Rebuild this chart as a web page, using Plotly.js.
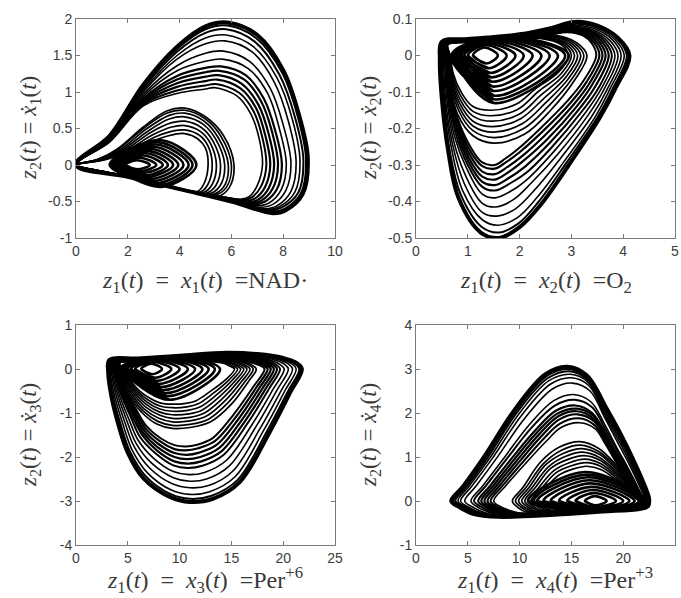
<!DOCTYPE html>
<html><head><meta charset="utf-8">
<script src="https://cdn.plot.ly/plotly-3.0.1.min.js"></script>
<style>html,body{margin:0;padding:0;background:#fff;}#plot{width:681px;height:598px;}</style>
</head><body><div id="plot"></div>
<script>
// ---------- data (each string = one loop of the trajectory, "x,y" control points) ----------
// Panel 1: z1 = x1 (NAD·), z2 = dx1/dt
const nadBig = [
"0,0 1.3,0.4 2.6,1.1 3.9,1.62 5,1.9 5.9,1.95 7,1.78 8,1.3 8.6,0.7 8.95,0.1 8.75,-0.4 8.1,-0.62 7.6,-0.66 6,-0.5 4,-0.33 2,-0.16 0,0",
"0,0 1.3,0.39 2.6,1.08 3.9,1.59 5,1.86 5.85,1.91 6.95,1.74 7.95,1.27 8.55,0.68 8.88,0.08 8.68,-0.39 8.05,-0.6 7.55,-0.64 6,-0.5 4,-0.33 2,-0.16 0,0",
"0,0 1.3,0.38 2.6,1.05 3.9,1.55 5,1.81 5.8,1.86 6.9,1.69 7.85,1.24 8.45,0.66 8.78,0.06 8.58,-0.38 7.95,-0.58 7.45,-0.62 6,-0.49 4,-0.33 2,-0.16 0,0",
"0,0 1.3,0.37 2.6,1.02 3.9,1.5 5,1.74 5.8,1.78 6.85,1.62 7.75,1.2 8.35,0.63 8.65,0.04 8.45,-0.37 7.85,-0.57 7.35,-0.61 6,-0.49 4,-0.33 2,-0.16 0,0",
"0,0 1.3,0.37 2.6,1.0 3.9,1.45 5,1.66 5.75,1.7 6.8,1.55 7.65,1.14 8.2,0.6 8.5,0.03 8.3,-0.36 7.75,-0.56 7.25,-0.6 6,-0.49 4,-0.33 2,-0.16 0,0",
"0,0 1.3,0.36 2.6,0.97 3.9,1.36 5,1.53 5.7,1.56 6.7,1.42 7.5,1.05 8,0.55 8.3,0.02 8.1,-0.35 7.6,-0.54 7.1,-0.58 6,-0.48 4,-0.33 2,-0.16 0,0",
"0,0 1.3,0.35 2.6,0.94 3.9,1.29 5,1.42 5.65,1.45 6.65,1.32 7.4,0.98 7.85,0.5 8.12,0.01 7.92,-0.34 7.45,-0.52 6.95,-0.56 6,-0.48 4,-0.33 2,-0.16 0,0",
"0,0 1.3,0.34 2.6,0.91 3.9,1.22 5,1.33 5.6,1.35 6.55,1.23 7.25,0.91 7.7,0.46 7.95,0 7.76,-0.33 7.3,-0.5 6.85,-0.54 6,-0.47 4,-0.33 2,-0.16 0,0",
"0,0 1.3,0.34 2.6,0.89 3.9,1.17 5,1.27 5.55,1.29 6.5,1.17 7.15,0.87 7.58,0.44 7.8,0 7.6,-0.32 7.15,-0.49 6.75,-0.52 6,-0.47 4,-0.33 2,-0.16 0,0",
"0,0 1.3,0.33 2.6,0.87 3.9,1.12 5,1.21 5.5,1.23 6.4,1.11 7.05,0.82 7.45,0.41 7.65,0 7.45,-0.31 7.05,-0.47 6.65,-0.51 6,-0.47 4,-0.33 2,-0.16 0,0",
"0,0 1.3,0.33 2.6,0.85 3.9,1.07 5,1.15 5.45,1.17 6.35,1.05 6.95,0.78 7.32,0.39 7.5,0 7.3,-0.3 6.9,-0.46 6.55,-0.49 6,-0.46 4,-0.33 2,-0.16 0,0",
"0,0 1.3,0.32 2.6,0.83 3.9,1.02 5,1.09 5.4,1.11 6.3,0.99 6.85,0.74 7.2,0.37 7.35,0 7.15,-0.29 6.8,-0.44 6.45,-0.48 6,-0.46 4,-0.33 2,-0.16 0,0",
"0,0 1.3,0.32 2.6,0.81 3.9,0.98 5,1.04 5.35,1.06 6.2,0.95 6.75,0.7 7.08,0.35 7.2,0 7,-0.28 6.7,-0.43 6.35,-0.47 6,-0.46 4,-0.33 2,-0.16 0,0"
];
const nadMid = [
"0,0 0.8,0.07 1.6,0.22 2.6,0.52 3.5,0.74 4.2,0.78 5,0.66 5.7,0.4 6.1,0 5.9,-0.32 5.4,-0.44 4.8,-0.4 3,-0.25 1.5,-0.12 0,0",
"0,0 0.8,0.07 1.6,0.21 2.6,0.5 3.5,0.71 4.2,0.75 5,0.63 5.6,0.39 6,0 5.8,-0.31 5.3,-0.42 4.7,-0.39 3,-0.25 1.5,-0.12 0,0",
"0,0 0.8,0.07 1.7,0.21 2.7,0.49 3.6,0.68 4.2,0.71 4.95,0.6 5.5,0.37 5.88,0 5.7,-0.3 5.2,-0.41 4.6,-0.38 3,-0.25 1.5,-0.12 0,0",
"0,0 0.9,0.07 1.8,0.21 2.8,0.47 3.6,0.63 4.2,0.66 4.9,0.56 5.4,0.35 5.74,0 5.55,-0.29 5.1,-0.4 4.5,-0.37 3,-0.25 1.5,-0.12 0,0",
"0,0 0.9,0.07 1.9,0.21 2.9,0.45 3.7,0.58 4.2,0.6 4.85,0.51 5.3,0.32 5.58,0 5.4,-0.28 5,-0.39 4.4,-0.36 3,-0.25 1.5,-0.12 0,0",
"0,0 1,0.07 2,0.21 3,0.42 3.7,0.52 4.2,0.54 4.8,0.46 5.2,0.29 5.42,0 5.25,-0.27 4.9,-0.38 4.3,-0.35 3,-0.25 1.5,-0.12 0,0",
"0,0 1,0.07 2.1,0.21 3.1,0.39 3.8,0.47 4.2,0.48 4.75,0.41 5.1,0.26 5.26,0 5.1,-0.26 4.8,-0.37 4.2,-0.34 3,-0.25 1.5,-0.12 0,0",
"0,0 1.1,0.07 2.2,0.21 3.2,0.36 3.8,0.42 4.2,0.43 4.7,0.36 5,0.23 5.1,0 4.95,-0.25 4.7,-0.36 4.1,-0.34 3,-0.25 1.5,-0.12 0,0"
];
const nadCore = [
"2.35,-0.06 1.9,0 2.35,0.065 2.85,0 2.35,-0.06 1.9,0",
"2.45,-0.085 1.8,0 2.45,0.1 3.1,0 2.45,-0.085 1.8,0",
"2.6,-0.11 1.72,0 2.6,0.13 3.35,0 2.6,-0.11 1.72,0",
"2.7,-0.14 1.65,0 2.7,0.16 3.55,0 2.7,-0.14 1.65,0",
"2.8,-0.16 1.58,0 2.8,0.19 3.75,0 2.8,-0.16 1.58,0",
"2.9,-0.19 1.5,0 2.9,0.22 3.95,0 2.9,-0.19 1.5,0",
"3,-0.22 1.45,0 3,0.25 4.15,0 3,-0.22 1.45,0",
"3.1,-0.25 1.4,0 3.1,0.28 4.35,0 3.1,-0.25 1.4,0",
"3.2,-0.28 1.35,0 3.2,0.31 4.5,0 3.2,-0.28 1.35,0",
"3.3,-0.3 1.3,0 3.3,0.34 4.65,0 3.3,-0.3 1.3,0"
];
// Panel 2: z1 = x2 (O2), z2 = dx2/dt
const o2Big = [
"0.5,0.038 1,0.045 2,0.058 2.6,0.075 3.05,0.092 3.5,0.082 3.9,0.048 4.12,0 3.85,-0.09 3.55,-0.17 2.95,-0.3 2.4,-0.41 2,-0.47 1.6,-0.5 1.25,-0.485 0.82,-0.39 0.62,-0.26 0.5,-0.12 0.46,-0.01 0.5,0.038",
"0.5,0.037 1,0.044 2,0.057 2.6,0.073 3.05,0.089 3.5,0.079 3.88,0.046 4.07,0 3.8,-0.09 3.5,-0.17 2.9,-0.295 2.37,-0.4 1.98,-0.46 1.6,-0.485 1.27,-0.47 0.86,-0.38 0.65,-0.26 0.53,-0.12 0.49,-0.01 0.5,0.037",
"0.51,0.036 1,0.043 2,0.056 2.6,0.071 3.05,0.086 3.48,0.076 3.84,0.044 4.02,0 3.75,-0.09 3.45,-0.17 2.86,-0.29 2.33,-0.39 1.95,-0.445 1.58,-0.465 1.28,-0.45 0.9,-0.37 0.68,-0.25 0.55,-0.12 0.51,-0.01 0.51,0.036",
"0.52,0.035 1,0.042 2,0.055 2.6,0.069 3.05,0.083 3.45,0.073 3.8,0.042 3.96,0 3.7,-0.09 3.4,-0.165 2.8,-0.28 2.28,-0.37 1.92,-0.42 1.56,-0.44 1.28,-0.43 0.93,-0.35 0.7,-0.24 0.57,-0.12 0.53,-0.01 0.52,0.035",
"0.53,0.035 1,0.042 2,0.054 2.6,0.067 3,0.08 3.42,0.07 3.75,0.04 3.9,0 3.64,-0.09 3.34,-0.16 2.74,-0.27 2.22,-0.35 1.88,-0.395 1.55,-0.415 1.28,-0.405 0.96,-0.33 0.72,-0.23 0.59,-0.11 0.55,-0.01 0.53,0.035",
"0.54,0.034 1,0.041 2,0.053 2.6,0.065 3,0.077 3.4,0.067 3.7,0.038 3.84,0 3.58,-0.09 3.28,-0.155 2.68,-0.26 2.18,-0.335 1.85,-0.37 1.53,-0.39 1.28,-0.38 0.98,-0.31 0.74,-0.22 0.61,-0.11 0.57,-0.01 0.54,0.034",
"0.55,0.034 1,0.041 2,0.052 2.6,0.063 3,0.074 3.38,0.065 3.65,0.037 3.78,0 3.52,-0.09 3.22,-0.15 2.63,-0.25 2.14,-0.32 1.82,-0.35 1.52,-0.37 1.28,-0.36 1,-0.3 0.76,-0.21 0.62,-0.1 0.58,-0.01 0.55,0.034",
"0.56,0.034 1,0.041 2,0.052 2.6,0.062 3,0.072 3.35,0.063 3.6,0.036 3.72,0 3.46,-0.085 3.16,-0.145 2.58,-0.24 2.1,-0.305 1.8,-0.335 1.52,-0.355 1.28,-0.346 1.01,-0.29 0.77,-0.2 0.63,-0.1 0.59,-0.01 0.56,0.034",
"0.57,0.033 1,0.04 2,0.051 2.6,0.061 3,0.07 3.32,0.061 3.55,0.035 3.66,0 3.4,-0.08 3.1,-0.14 2.53,-0.23 2.06,-0.29 1.78,-0.32 1.52,-0.34 1.28,-0.332 1.02,-0.28 0.78,-0.19 0.64,-0.1 0.6,-0.01 0.57,0.033",
"0.58,0.033 1,0.04 2,0.05 2.6,0.06 2.98,0.068 3.28,0.059 3.5,0.034 3.6,0 3.34,-0.078 3.04,-0.135 2.48,-0.22 2.03,-0.278 1.76,-0.306 1.52,-0.325 1.28,-0.318 1.03,-0.27 0.79,-0.185 0.65,-0.095 0.61,-0.01 0.58,0.033",
"0.59,0.033 1,0.039 2,0.05 2.6,0.059 2.95,0.066 3.25,0.057 3.45,0.033 3.54,0 3.28,-0.075 2.98,-0.13 2.43,-0.21 2,-0.265 1.74,-0.292 1.52,-0.31 1.28,-0.303 1.04,-0.26 0.8,-0.18 0.66,-0.09 0.62,-0.01 0.59,0.033",
"0.6,0.033 1,0.039 2,0.05 2.6,0.058 2.92,0.064 3.22,0.055 3.4,0.032 3.48,0 3.22,-0.072 2.92,-0.125 2.4,-0.2 1.98,-0.255 1.72,-0.283 1.52,-0.3 1.28,-0.293 1.05,-0.25 0.81,-0.175 0.67,-0.09 0.63,-0.01 0.6,0.033"
];
const o2Mid = [
"0.56,0.032 1,0.04 2,0.052 2.7,0.055 3.1,0.035 3.3,0 3.05,-0.07 2.6,-0.15 2.1,-0.215 1.5,-0.24 1.1,-0.22 0.8,-0.16 0.66,-0.08 0.6,0 0.56,0.032",
"0.57,0.032 1,0.04 2,0.051 2.65,0.053 3.05,0.034 3.24,0 3,-0.066 2.55,-0.14 2.08,-0.2 1.5,-0.225 1.1,-0.206 0.82,-0.15 0.67,-0.075 0.61,0 0.57,0.032",
"0.58,0.031 1,0.039 2,0.05 2.6,0.052 3,0.033 3.18,0 2.95,-0.062 2.5,-0.13 2.05,-0.187 1.5,-0.21 1.1,-0.193 0.83,-0.14 0.68,-0.07 0.62,0 0.58,0.031",
"0.59,0.031 1,0.038 2,0.049 2.55,0.05 2.95,0.032 3.12,0 2.9,-0.058 2.45,-0.12 2.02,-0.173 1.48,-0.195 1.1,-0.18 0.84,-0.13 0.69,-0.065 0.63,0 0.59,0.031",
"0.6,0.03 1,0.037 2,0.048 2.5,0.049 2.9,0.031 3.06,0 2.85,-0.054 2.4,-0.11 2,-0.16 1.47,-0.18 1.1,-0.166 0.85,-0.12 0.7,-0.06 0.64,0 0.6,0.03",
"0.61,0.03 1,0.037 2,0.047 2.45,0.048 2.85,0.03 3,0 2.8,-0.05 2.35,-0.1 1.97,-0.147 1.46,-0.165 1.1,-0.153 0.86,-0.11 0.71,-0.055 0.65,0 0.61,0.03",
"0.62,0.03 1,0.036 2,0.046 2.4,0.047 2.8,0.03 2.94,0 2.75,-0.046 2.3,-0.092 1.94,-0.133 1.45,-0.15 1.1,-0.14 0.87,-0.1 0.72,-0.05 0.66,0 0.62,0.03"
];
const o2Core = [
"1.35,-0.022 1.1,0 1.32,0.022 1.58,0 1.35,-0.022 1.1,0",
"1.4,-0.035 1,0 1.35,0.028 1.75,0 1.4,-0.035 1,0",
"1.43,-0.048 0.93,0 1.38,0.032 1.92,0 1.43,-0.048 0.93,0",
"1.45,-0.06 0.88,0 1.42,0.036 2.08,0 1.45,-0.06 0.88,0",
"1.47,-0.072 0.84,0 1.46,0.04 2.25,0 1.47,-0.072 0.84,0",
"1.48,-0.085 0.8,0 1.5,0.043 2.42,0 1.48,-0.085 0.8,0",
"1.49,-0.097 0.76,0 1.55,0.046 2.58,0 1.49,-0.097 0.76,0",
"1.5,-0.11 0.73,0 1.6,0.048 2.74,0 1.5,-0.11 0.73,0",
"1.5,-0.12 0.7,0 1.65,0.05 2.88,0 1.5,-0.12 0.7,0",
"1.5,-0.13 0.68,0 1.7,0.052 2.95,0 1.5,-0.13 0.68,0"
];
// Panel 3: z1 = x3 (Per+6), z2 = dx3/dt
const per6Big = [
"3.2,0.2 6,0.24 10,0.3 14.5,0.37 17.5,0.34 20,0.25 21.2,0.15 21.8,0 20.7,-0.52 18.7,-1.43 15.8,-2.57 13.2,-2.95 11,-3.02 9,-2.9 6.5,-2.48 5,-1.9 4.1,-1.27 3.4,-0.6 3.1,-0.05 3.2,0.2",
"3.25,0.2 6,0.24 10,0.3 14.5,0.36 17.4,0.33 19.8,0.24 21,0.14 21.55,0 20.45,-0.51 18.45,-1.41 15.6,-2.52 13.1,-2.88 11,-2.95 9.1,-2.84 6.7,-2.43 5.2,-1.87 4.3,-1.25 3.55,-0.6 3.2,-0.05 3.25,0.2",
"3.3,0.19 6,0.23 10,0.29 14.5,0.35 17.3,0.32 19.6,0.23 20.75,0.13 21.25,0 20.15,-0.5 18.15,-1.38 15.35,-2.45 12.9,-2.79 11,-2.85 9.2,-2.75 6.9,-2.36 5.4,-1.83 4.5,-1.23 3.7,-0.59 3.3,-0.05 3.3,0.19",
"3.35,0.19 6,0.23 10,0.29 14.4,0.34 17.1,0.31 19.4,0.22 20.45,0.12 20.9,0 19.8,-0.49 17.8,-1.34 15.1,-2.33 12.8,-2.65 11,-2.7 9.3,-2.61 7.1,-2.25 5.6,-1.76 4.7,-1.2 3.85,-0.58 3.4,-0.05 3.35,0.19",
"3.4,0.19 6,0.23 10,0.28 14.3,0.33 16.9,0.3 19.1,0.21 20.1,0.11 20.5,0 19.4,-0.48 17.4,-1.3 14.8,-2.2 12.6,-2.5 11,-2.55 9.4,-2.47 7.3,-2.14 5.8,-1.69 4.9,-1.17 4,-0.57 3.5,-0.05 3.4,0.19",
"3.45,0.18 6,0.22 10,0.28 14.2,0.32 16.7,0.29 18.8,0.2 19.7,0.1 20.1,0 19,-0.47 17,-1.26 14.5,-2.08 12.4,-2.35 10.9,-2.4 9.4,-2.33 7.5,-2.03 6,-1.62 5.1,-1.14 4.15,-0.56 3.6,-0.05 3.45,0.18",
"3.5,0.18 6,0.22 10,0.27 14,0.31 16.5,0.28 18.5,0.19 19.35,0.09 19.7,0 18.6,-0.46 16.6,-1.22 14.2,-1.96 12.2,-2.2 10.8,-2.25 9.4,-2.19 7.7,-1.92 6.2,-1.55 5.3,-1.1 4.3,-0.55 3.7,-0.05 3.5,0.18",
"3.55,0.18 6,0.22 10,0.27 14,0.3 16.3,0.27 18.2,0.18 19.05,0.09 19.4,0 18.3,-0.45 16.3,-1.19 14,-1.88 12.1,-2.1 10.8,-2.15 9.5,-2.1 7.8,-1.85 6.4,-1.5 5.45,-1.08 4.4,-0.54 3.8,-0.05 3.55,0.18",
"3.6,0.18 6,0.21 10,0.26 13.9,0.29 16.1,0.26 17.9,0.17 18.75,0.08 19.1,0 18,-0.44 16,-1.16 13.8,-1.8 12,-2 10.7,-2.05 9.5,-2 7.9,-1.78 6.5,-1.45 5.6,-1.05 4.5,-0.53 3.9,-0.05 3.6,0.18",
"3.65,0.17 6,0.21 10,0.26 13.8,0.28 15.9,0.25 17.6,0.16 18.45,0.08 18.8,0 17.7,-0.43 15.7,-1.13 13.6,-1.72 11.9,-1.9 10.7,-1.95 9.5,-1.91 8,-1.71 6.6,-1.4 5.7,-1.02 4.6,-0.52 4,-0.05 3.65,0.17",
"3.7,0.17 6,0.21 10,0.25 13.7,0.27 15.7,0.24 17.3,0.15 18.15,0.07 18.5,0 17.4,-0.42 15.4,-1.1 13.4,-1.64 11.8,-1.8 10.6,-1.85 9.5,-1.82 8.1,-1.64 6.7,-1.35 5.8,-0.99 4.7,-0.51 4.1,-0.05 3.7,0.17",
"3.75,0.17 6,0.2 10,0.25 13.6,0.26 15.5,0.23 17,0.14 17.85,0.07 18.2,0 17.1,-0.41 15.1,-1.07 13.2,-1.57 11.7,-1.72 10.6,-1.76 9.5,-1.73 8.2,-1.58 6.8,-1.3 5.9,-0.96 4.8,-0.5 4.2,-0.05 3.75,0.17"
];
const per6Mid = [
"3.9,0.16 6,0.19 10,0.23 13.5,0.24 15.6,0.2 16.9,0.1 17.4,0 16.6,-0.3 15,-0.8 13,-1.2 11,-1.33 9.3,-1.35 7.8,-1.25 6.4,-1 5.4,-0.7 4.6,-0.35 4.2,-0.05 3.9,0.16",
"3.95,0.16 6,0.19 10,0.23 13.4,0.23 15.4,0.19 16.6,0.1 17.1,0 16.3,-0.29 14.7,-0.76 12.8,-1.14 11,-1.26 9.3,-1.28 7.9,-1.19 6.5,-0.96 5.5,-0.67 4.7,-0.34 4.25,-0.05 3.95,0.16",
"4,0.15 6,0.18 10,0.22 13.3,0.22 15.2,0.18 16.3,0.09 16.8,0 16,-0.28 14.4,-0.72 12.6,-1.07 11,-1.18 9.3,-1.2 8,-1.12 6.6,-0.91 5.6,-0.64 4.8,-0.33 4.3,-0.05 4,0.15",
"4.05,0.15 6,0.18 10,0.22 13.2,0.21 15,0.17 16,0.09 16.5,0 15.7,-0.27 14.1,-0.68 12.4,-1 11,-1.1 9.3,-1.12 8.1,-1.05 6.7,-0.86 5.7,-0.61 4.9,-0.32 4.35,-0.05 4.05,0.15",
"4.1,0.15 6,0.17 10,0.21 13,0.2 14.8,0.16 15.7,0.08 16.2,0 15.4,-0.26 13.8,-0.64 12.2,-0.93 10.9,-1.02 9.3,-1.04 8.1,-0.98 6.8,-0.81 5.8,-0.58 5,-0.31 4.4,-0.05 4.1,0.15",
"4.15,0.14 6,0.17 10,0.21 12.9,0.19 14.6,0.15 15.4,0.08 15.9,0 15.1,-0.25 13.5,-0.6 12,-0.86 10.8,-0.94 9.3,-0.96 8.1,-0.91 6.9,-0.76 5.9,-0.55 5.1,-0.3 4.45,-0.05 4.15,0.14",
"4.2,0.14 6,0.16 10,0.2 12.8,0.18 14.4,0.14 15.1,0.07 15.6,0 14.8,-0.24 13.2,-0.56 11.8,-0.79 10.7,-0.86 9.3,-0.88 8.1,-0.84 7,-0.71 6,-0.52 5.2,-0.29 4.5,-0.05 4.2,0.14",
"4.25,0.14 6,0.16 10,0.2 12.7,0.17 14.2,0.13 14.8,0.07 15.3,0 14.5,-0.23 12.9,-0.52 11.6,-0.72 10.6,-0.78 9.3,-0.8 8.1,-0.77 7.1,-0.66 6.1,-0.49 5.3,-0.28 4.55,-0.05 4.25,0.14"
];
const per6Core = [
"7.3,-0.12 6.3,0 7.25,0.12 8.3,0 7.3,-0.12 6.3,0",
"7.6,-0.2 5.7,0 7.4,0.16 9.2,0 7.6,-0.2 5.7,0",
"7.8,-0.27 5.3,0 7.6,0.19 10,0 7.8,-0.27 5.3,0",
"8,-0.34 5,0 7.8,0.21 10.8,0 8,-0.34 5,0",
"8.2,-0.41 4.8,0 8,0.23 11.5,0 8.2,-0.41 4.8,0",
"8.4,-0.48 4.6,0 8.2,0.25 12.2,0 8.4,-0.48 4.6,0",
"8.6,-0.55 4.45,0 8.4,0.26 12.8,0 8.6,-0.55 4.45,0",
"8.8,-0.62 4.3,0 8.6,0.27 13.4,0 8.8,-0.62 4.3,0",
"9,-0.7 4.2,0 8.8,0.28 13.9,0 9,-0.7 4.2,0"
];
// Panel 4: z1 = x4 (Per+3), z2 = dx4/dt
const per3Big = [
"3.4,0 4.5,0.32 6.5,0.98 9.6,2.1 12.5,2.88 14.6,3.05 16.5,2.85 18.4,2.1 19.8,1.5 20.95,0.95 21.9,0.45 22.5,0.05 22.4,-0.12 21.6,-0.18 18,-0.24 15,-0.29 12,-0.33 8,-0.36 5.5,-0.29 4.2,-0.14 3.4,0",
"3.6,0 4.7,0.33 6.7,0.98 9.7,2.07 12.6,2.84 14.7,3 16.5,2.8 18.3,2.08 19.7,1.48 20.85,0.94 21.8,0.44 22.4,0.04 22.3,-0.12 21.5,-0.18 18,-0.24 15,-0.29 12,-0.33 8,-0.35 5.7,-0.28 4.4,-0.13 3.6,0",
"3.8,0 4.9,0.33 6.9,0.98 9.8,2.03 12.7,2.79 14.8,2.95 16.5,2.76 18.25,2.05 19.65,1.46 20.8,0.93 21.75,0.43 22.35,0.04 22.25,-0.12 21.4,-0.18 18,-0.24 15,-0.28 12,-0.32 8,-0.35 5.9,-0.28 4.6,-0.13 3.8,0",
"4.05,0 5.1,0.33 7.1,0.97 10,2 12.8,2.73 14.9,2.88 16.6,2.7 18.2,2 19.6,1.43 20.7,0.92 21.65,0.42 22.3,0.03 22.2,-0.12 21.3,-0.18 18,-0.24 15,-0.28 12,-0.32 8,-0.34 6.1,-0.27 4.8,-0.13 4.05,0",
"4.3,0 5.4,0.34 7.4,0.98 10.2,1.95 13,2.66 15,2.8 16.7,2.62 18.2,1.96 19.5,1.4 20.6,0.9 21.55,0.41 22.2,0.03 22.1,-0.12 21.2,-0.18 18,-0.24 15,-0.28 12,-0.32 8,-0.34 6.3,-0.27 5,-0.13 4.3,0",
"4.7,0 5.8,0.34 7.8,0.98 10.5,1.88 13.2,2.55 15.1,2.68 16.8,2.5 18.2,1.9 19.4,1.36 20.5,0.87 21.45,0.4 22.1,0.03 22,-0.12 21.1,-0.18 18,-0.24 15,-0.28 12,-0.32 8,-0.33 6.6,-0.26 5.4,-0.13 4.7,0",
"5.3,0 6.4,0.33 8.4,0.95 11,1.75 13.3,2.28 15.2,2.42 16.9,2.25 18.3,1.7 19.4,1.2 20.4,0.78 21.3,0.36 21.95,0.02 21.85,-0.12 21,-0.18 18,-0.24 15,-0.28 12,-0.31 8,-0.32 7.1,-0.26 5.9,-0.13 5.3,0",
"5.6,0 6.7,0.33 8.7,0.94 11.2,1.68 13.4,2.17 15.3,2.3 17,2.13 18.3,1.62 19.4,1.15 20.35,0.75 21.25,0.35 21.9,0.02 21.8,-0.12 20.9,-0.18 18,-0.23 15,-0.27 12,-0.3 8,-0.31 7.3,-0.25 6.2,-0.12 5.6,0",
"6,0 7.1,0.33 9.1,0.93 11.5,1.6 13.5,2.05 15.4,2.17 17,2 18.3,1.53 19.3,1.1 20.3,0.72 21.2,0.34 21.85,0.02 21.75,-0.12 20.8,-0.18 18,-0.23 15,-0.27 12,-0.3 8.5,-0.3 7.6,-0.24 6.6,-0.12 6,0",
"6.3,0 7.4,0.33 9.4,0.92 11.7,1.56 13.6,1.98 15.5,2.1 17.1,1.94 18.3,1.49 19.3,1.07 20.25,0.7 21.15,0.33 21.8,0.02 21.7,-0.12 20.7,-0.18 18,-0.23 15,-0.27 12,-0.3 8.7,-0.3 7.9,-0.24 6.9,-0.12 6.3,0",
"6.6,0 7.7,0.33 9.7,0.91 11.9,1.52 13.7,1.92 15.5,2.04 17.1,1.88 18.3,1.45 19.3,1.04 20.2,0.68 21.1,0.32 21.75,0.02 21.65,-0.12 20.6,-0.18 18,-0.23 15,-0.27 12,-0.29 9,-0.29 8.2,-0.24 7.2,-0.12 6.6,0",
"6.9,0 8,0.33 10,0.9 12.1,1.47 13.8,1.85 15.6,1.97 17.2,1.81 18.3,1.4 19.25,1 20.15,0.66 21.05,0.31 21.7,0.02 21.6,-0.12 20.5,-0.18 18,-0.23 15,-0.26 12,-0.29 9.3,-0.28 8.5,-0.23 7.5,-0.12 6.9,0",
"7.2,0 8.3,0.33 10.3,0.88 12.3,1.41 13.9,1.76 15.7,1.88 17.2,1.73 18.3,1.34 19.2,0.96 20.1,0.63 21,0.3 21.65,0.02 21.55,-0.12 20.4,-0.18 18,-0.23 15,-0.26 12,-0.28 9.6,-0.28 8.8,-0.23 7.8,-0.12 7.2,0",
"7.5,0 8.6,0.33 10.6,0.86 12.5,1.34 14,1.67 15.8,1.78 17.3,1.64 18.3,1.28 19.2,0.92 20.05,0.6 20.95,0.29 21.6,0.02 21.5,-0.12 20.3,-0.18 18,-0.22 15,-0.26 12,-0.28 9.9,-0.27 9.1,-0.22 8.1,-0.12 7.5,0"
];
const per3Mid = [
"9.3,0 10.3,0.3 12,0.88 13.8,1.22 15.8,1.35 17.6,1.2 19.2,0.85 20.4,0.48 21.4,0.16 21.9,0 21.8,-0.12 20.5,-0.18 18,-0.22 15,-0.25 12,-0.27 10.5,-0.24 9.8,-0.14 9.3,0",
"9.6,0 10.6,0.3 12.3,0.85 14,1.15 15.9,1.27 17.6,1.13 19.2,0.8 20.4,0.45 21.35,0.15 21.85,0 21.75,-0.12 20.5,-0.18 18,-0.22 15,-0.25 12,-0.26 10.8,-0.23 10.1,-0.13 9.6,0",
"9.9,0 10.9,0.3 12.5,0.82 14.2,1.08 16,1.19 17.7,1.06 19.2,0.75 20.4,0.42 21.3,0.14 21.8,0 21.7,-0.12 20.5,-0.18 18,-0.22 15,-0.24 12.2,-0.26 11.1,-0.22 10.4,-0.13 9.9,0",
"10.2,0 11.2,0.3 12.8,0.78 14.4,1.01 16.1,1.11 17.7,0.99 19.2,0.7 20.4,0.39 21.25,0.13 21.75,0 21.65,-0.12 20.5,-0.17 18,-0.21 15,-0.24 12.5,-0.25 11.4,-0.22 10.7,-0.12 10.2,0",
"10.5,0 11.5,0.3 13,0.74 14.6,0.94 16.2,1.03 17.8,0.92 19.2,0.65 20.4,0.36 21.2,0.12 21.7,0 21.6,-0.12 20.5,-0.17 18,-0.21 15,-0.23 12.8,-0.24 11.7,-0.21 11,-0.12 10.5,0",
"10.8,0 11.8,0.29 13.3,0.69 14.8,0.87 16.3,0.95 17.8,0.85 19.2,0.6 20.3,0.33 21.15,0.11 21.65,0 21.55,-0.12 20.5,-0.17 18,-0.2 15,-0.23 13,-0.24 12,-0.21 11.3,-0.12 10.8,0",
"11.1,0 12.1,0.28 13.5,0.64 15,0.8 16.4,0.87 17.9,0.78 19.2,0.55 20.3,0.3 21.1,0.1 21.6,0 21.5,-0.12 20.5,-0.17 18,-0.2 15,-0.22 13.2,-0.23 12.3,-0.2 11.6,-0.11 11.1,0",
"11.4,0 12.4,0.27 13.8,0.59 15.2,0.73 16.5,0.79 17.9,0.71 19.2,0.5 20.3,0.27 21.05,0.09 21.55,0 21.45,-0.12 20.5,-0.17 18,-0.2 15,-0.22 13.5,-0.22 12.6,-0.19 11.9,-0.11 11.4,0"
];
const per3Core = [
"17.3,-0.1 16.3,0 17.25,0.11 18.4,0 17.3,-0.1 16.3,0",
"17.3,-0.14 15.4,0 17.1,0.18 19.3,0 17.3,-0.14 15.4,0",
"17.3,-0.17 14.6,0 17,0.25 20,0 17.3,-0.17 14.6,0",
"17.2,-0.19 13.8,0 16.9,0.32 20.6,0 17.2,-0.19 13.8,0",
"17.1,-0.21 13,0 16.8,0.4 21.1,0 17.1,-0.21 13,0",
"17,-0.22 12.3,0 16.7,0.47 21.5,0 17,-0.22 12.3,0",
"17,-0.23 11.7,0 16.6,0.54 21.8,0 17,-0.23 11.7,0",
"16.9,-0.24 11.2,0 16.5,0.6 22,0 16.9,-0.24 11.2,0",
"16.8,-0.25 10.8,0 16.4,0.66 22.1,0 16.8,-0.25 10.8,0"
];

// ---------- tick labels ----------
const nadXTicks = [0,2,4,6,8,10], nadXText = ["0","2","4","6","8","10"];
const nadYTicks = [-1,-0.5,0,0.5,1,1.5,2], nadYText = ["-1","-0.5","0","0.5","1","1.5","2"];
const o2XTicks = [0,1,2,3,4,5], o2XText = ["0","1","2","3","4","5"];
const o2YTicks = [-0.5,-0.4,-0.3,-0.2,-0.1,0,0.1], o2YText = ["-0.5","-0.4","-0.3","-0.2","-0.1","0","0.1"];
const perXTicks = [0,5,10,15,20,25], perXText = ["0","5","10","15","20","25"];
const per6YTicks = [-4,-3,-2,-1,0,1], per6YText = ["-4","-3","-2","-1","0","1"];
const per3YTicks = [-1,0,1,2,3,4], per3YText = ["-1","0","1","2","3","4"];

// ---------- axis titles ----------
const SP = "\u2002";
const xTitles = [
  "<i>z</i><sub>1</sub>(<i>t</i>)"+SP+"="+SP+"<i>x</i><sub>1</sub>(<i>t</i>)"+SP+"=NAD·",
  "<i>z</i><sub>1</sub>(<i>t</i>)"+SP+"="+SP+"<i>x</i><sub>2</sub>(<i>t</i>)"+SP+"=O<sub>2</sub>",
  "<i>z</i><sub>1</sub>(<i>t</i>)"+SP+"="+SP+"<i>x</i><sub>3</sub>(<i>t</i>)"+SP+"=Per<sup>+6</sup>",
  "<i>z</i><sub>1</sub>(<i>t</i>)"+SP+"="+SP+"<i>x</i><sub>4</sub>(<i>t</i>)"+SP+"=Per<sup>+3</sup>"
];
const yTitles = [
  "<i>z</i><sub>2</sub>(<i>t</i>) = <i>ẋ</i><sub>1</sub>(<i>t</i>)",
  "<i>z</i><sub>2</sub>(<i>t</i>) = <i>ẋ</i><sub>2</sub>(<i>t</i>)",
  "<i>z</i><sub>2</sub>(<i>t</i>) = <i>ẋ</i><sub>3</sub>(<i>t</i>)",
  "<i>z</i><sub>2</sub>(<i>t</i>) = <i>ẋ</i><sub>4</sub>(<i>t</i>)"
];

// ---------- stroke styles (kept apart from the data) ----------
const nadBigW  = [4,2,2,1.6,1.6,1.6,1.6,2.2,2.2,2.2,2.2,2,1.6];
const o2BigW   = [4,2,1.6,1.6,1.6,1.6,2,2.2,2.2,2.2,2.2,2];
const per6BigW = [4,2,1.6,1.6,1.6,1.6,2,2.2,2.2,2.2,2.2,2];
const per3BigW = [4,2.2,2,1.6,1.6,1.6,1.6,2,2.2,2.2,2.2,2.2,2,1.6];

// ---------- build ----------
function parseLoop(s){
  const xs=[], ys=[];
  s.trim().split(/\s+/).forEach(p=>{const v=p.split(','); xs.push(+v[0]); ys.push(+v[1]);});
  return {xs, ys};
}
const traces = [];
function addFamily(list, ax, widths){
  list.forEach((s,i)=>{
    const l = parseLoop(s);
    const w = Array.isArray(widths) ? widths[i] : widths;
    traces.push({type:'scatter', mode:'lines', x:l.xs, y:l.ys, xaxis:'x'+ax, yaxis:'y'+ax,
      hoverinfo:'skip', showlegend:false,
      line:{color:'#000', width:w, shape:'spline', smoothing:1}});
  });
}
addFamily(nadBig,'',nadBigW); addFamily(nadMid,'',1.7); addFamily(nadCore,'',2.6);
addFamily(o2Big,'2',o2BigW); addFamily(o2Mid,'2',1.7); addFamily(o2Core,'2',2.6);
addFamily(per6Big,'3',per6BigW); addFamily(per6Mid,'3',1.7); addFamily(per6Core,'3',2.6);
addFamily(per3Big,'4',per3BigW); addFamily(per3Mid,'4',1.7); addFamily(per3Core,'4',2.6);

const W=681, H=598;
const dxL=[76/W,335/W], dxR=[416/W,675/W];
const dyT=[1-238/H,1-19/H], dyB=[1-545/H,1-325/H];
const tickFont={family:'Liberation Sans, Arial, sans-serif', size:14, color:'#3c3c3c'};
function ax(domain, range, vals, text, anchor){
  return {domain, range, tickvals:vals, ticktext:text, anchor, showline:true, mirror:'ticks',
    linecolor:'#7a7a7a', linewidth:1, ticks:'inside', ticklen:4, tickcolor:'#7a7a7a',
    showgrid:false, zeroline:false, tickfont:tickFont, fixedrange:true};
}
const titleFont={family:'Liberation Serif, DejaVu Serif, serif', size:24, color:'#3a3a3a'};
const yTitleFont={family:'Liberation Serif, DejaVu Serif, serif', size:23, color:'#3a3a3a'};
const ann=[];
const xTitlePos=[[205/W,1-282/H],[546/W,1-282/H],[205/W,1-580/H],[555/W,1-580/H]];
const yTitlePos=[[30/W,1-128/H],[370/W,1-128/H],[30/W,1-435/H],[370/W,1-435/H]];
xTitles.forEach((t,i)=>ann.push({text:t, xref:'paper', yref:'paper', x:xTitlePos[i][0], y:xTitlePos[i][1],
  xanchor:'center', yanchor:'middle', showarrow:false, font:titleFont}));
yTitles.forEach((t,i)=>ann.push({text:t, xref:'paper', yref:'paper', x:yTitlePos[i][0], y:yTitlePos[i][1],
  xanchor:'center', yanchor:'middle', showarrow:false, textangle:-90, font:yTitleFont}));

const layout = {
  width:W, height:H, margin:{l:0,r:0,t:0,b:0}, paper_bgcolor:'#fff', plot_bgcolor:'#fff', showlegend:false,
  xaxis: ax(dxL,[0,10],nadXTicks,nadXText,'y'),
  yaxis: ax(dyT,[-1,2],nadYTicks,nadYText,'x'),
  xaxis2: ax(dxR,[0,5],o2XTicks,o2XText,'y2'),
  yaxis2: ax(dyT,[-0.5,0.1],o2YTicks,o2YText,'x2'),
  xaxis3: ax(dxL,[0,25],perXTicks,perXText,'y3'),
  yaxis3: ax(dyB,[-4,1],per6YTicks,per6YText,'x3'),
  xaxis4: ax(dxR,[0,25],perXTicks,perXText,'y4'),
  yaxis4: ax(dyB,[-1,4],per3YTicks,per3YText,'x4'),
  annotations: ann
};
Plotly.newPlot('plot', traces, layout, {staticPlot:true, displayModeBar:false});
</script>
</body></html>
